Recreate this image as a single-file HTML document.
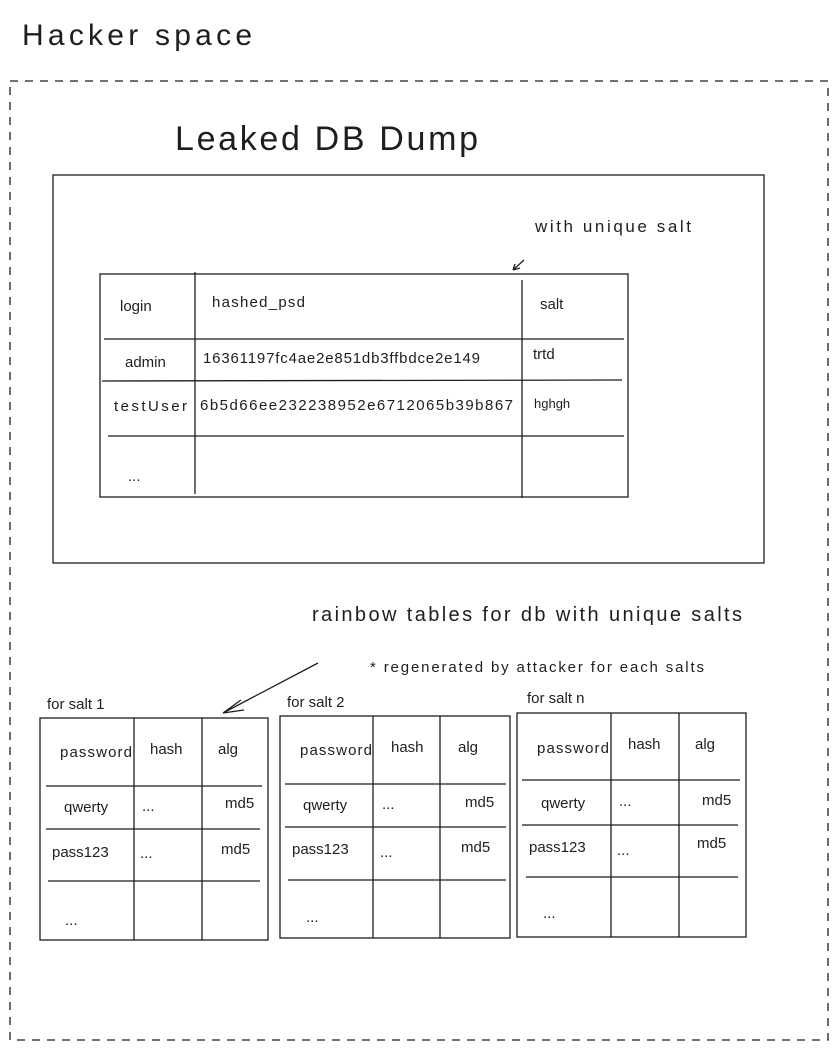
<!DOCTYPE html>
<html><head><meta charset="utf-8"><style>
html,body{margin:0;padding:0;background:#fff;}
svg{display:block;}
text{font-family:"Liberation Sans",sans-serif;fill:#1e1e1e;}
</style></head><body>
<svg width="836" height="1050" viewBox="0 0 836 1050" xmlns="http://www.w3.org/2000/svg">
<g stroke="#1e1e1e" fill="none" stroke-width="1.3">
<rect x="10" y="81" width="818" height="959" stroke-dasharray="8 7"/>
<rect x="53" y="175" width="711" height="388"/>
<rect x="100" y="274" width="528" height="223"/>
<line x1="195" y1="272" x2="195" y2="494"/>
<line x1="522" y1="280" x2="522" y2="498"/>
<line x1="104" y1="339" x2="624" y2="339"/>
<line x1="102" y1="381" x2="622" y2="380"/>
<line x1="108" y1="436" x2="624" y2="436"/>
<path d="M524 260 L513 270 M513 270 L520 268 M513 270 L515 264"/>
<path d="M318 663 L223 713 M223 713 L241 700 M223 713 L244 710"/>
<rect x="40" y="718" width="228" height="222"/>
<line x1="134" y1="718" x2="134" y2="940"/>
<line x1="202" y1="718" x2="202" y2="940"/>
<line x1="46" y1="786" x2="262" y2="786"/>
<line x1="46" y1="829" x2="260" y2="829"/>
<line x1="48" y1="881" x2="260" y2="881"/>
<rect x="280" y="716" width="230" height="222"/>
<line x1="373" y1="716" x2="373" y2="938"/>
<line x1="440" y1="716" x2="440" y2="938"/>
<line x1="285" y1="784" x2="506" y2="784"/>
<line x1="285" y1="827" x2="506" y2="827"/>
<line x1="288" y1="880" x2="506" y2="880"/>
<rect x="517" y="713" width="229" height="224"/>
<line x1="611" y1="713" x2="611" y2="937"/>
<line x1="679" y1="713" x2="679" y2="937"/>
<line x1="522" y1="780" x2="740" y2="780"/>
<line x1="522" y1="825" x2="738" y2="825"/>
<line x1="526" y1="877" x2="738" y2="877"/>
</g>
<text x="22" y="45" font-size="30" textLength="230">Hacker space</text>
<text x="175" y="150" font-size="34" textLength="303">Leaked DB Dump</text>
<text x="535" y="232" font-size="17" textLength="156">with unique salt</text>
<g font-size="15">
<text x="120" y="311">login</text>
<text x="212" y="307" textLength="93">hashed_psd</text>
<text x="540" y="309">salt</text>
<text x="125" y="367">admin</text>
<text x="203" y="363" textLength="277">16361197fc4ae2e851db3ffbdce2e149</text>
<text x="533" y="359">trtd</text>
<text x="114" y="411" textLength="73">testUser</text>
<text x="200" y="410" textLength="313">6b5d66ee232238952e6712065b39b867</text>
<text x="534" y="408" font-size="13">hghgh</text>
<text x="128" y="481">...</text>
</g>
<text x="312" y="621" font-size="20" textLength="430">rainbow tables for db with unique salts</text>
<text x="370" y="672" font-size="15" textLength="334">* regenerated by attacker for each salts</text>
<g font-size="15">
<text x="47" y="709">for salt 1</text>
<text x="287" y="707">for salt 2</text>
<text x="527" y="703">for salt n</text>
<text x="60" y="757" textLength="72">password</text><text x="150" y="754">hash</text><text x="218" y="754">alg</text>
<text x="64" y="812">qwerty</text><text x="142" y="811">...</text><text x="225" y="808">md5</text>
<text x="52" y="857">pass123</text><text x="140" y="858">...</text><text x="221" y="854">md5</text>
<text x="65" y="925">...</text>
<text x="300" y="755" textLength="72">password</text><text x="391" y="752">hash</text><text x="458" y="752">alg</text>
<text x="303" y="810">qwerty</text><text x="382" y="809">...</text><text x="465" y="807">md5</text>
<text x="292" y="854">pass123</text><text x="380" y="857">...</text><text x="461" y="852">md5</text>
<text x="306" y="922">...</text>
<text x="537" y="753" textLength="72">password</text><text x="628" y="749">hash</text><text x="695" y="749">alg</text>
<text x="541" y="808">qwerty</text><text x="619" y="806">...</text><text x="702" y="805">md5</text>
<text x="529" y="852">pass123</text><text x="617" y="855">...</text><text x="697" y="848">md5</text>
<text x="543" y="918">...</text>
</g>
</svg>
</body></html>
